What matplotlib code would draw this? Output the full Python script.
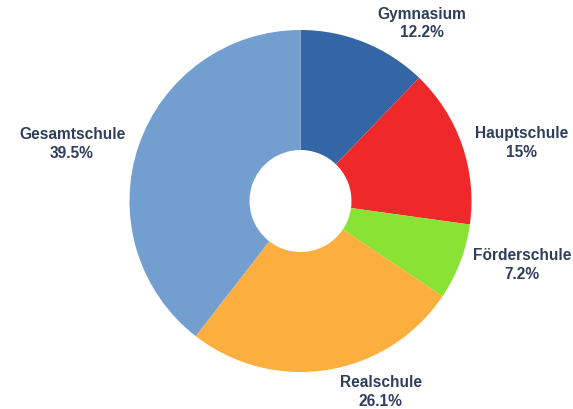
import matplotlib
matplotlib.use("Agg")
import matplotlib.pyplot as plt

categories = ["Gymnasium", "Hauptschule", "Förderschule", "Realschule", "Gesamtschule"]
shares = [12.2, 15, 7.2, 26.1, 39.5]
share_labels = ["12.2%", "15%", "7.2%", "26.1%", "39.5%"]
colors = ["#3465a4", "#ef2929", "#8ae234", "#fcaf3e", "#729fcf"]

# label anchor positions (layout, in units of the pie radius)
label_pos = [(0.711, 1.038), (1.295, 0.339), (1.295, -0.374), (0.468, -1.117), (-1.336, 0.333)]

W, H = 573, 409
fig = plt.figure(figsize=(W / 100, H / 100), dpi=100)
cx, cy, R = 300.5, 201, 171
ax = fig.add_axes([(cx - R) / W, (H - cy - R) / H, 2 * R / W, 2 * R / H])
ax.pie(shares, colors=colors, startangle=90, counterclock=False,
       radius=1, wedgeprops=dict(width=1 - 51 / 171, linewidth=0))
ax.set_xlim(-1, 1)
ax.set_ylim(-1, 1)
ax.set_aspect("equal")
ax.axis("off")

for name, lab, (x, y) in zip(categories, share_labels, label_pos):
    ax.text(x, y, f"{name}\n{lab}", ha="center", va="center",
            fontsize=11.2, fontweight="bold", color="#2e3e5c",
            family=["Liberation Sans", "DejaVu Sans"], linespacing=1.28,
            clip_on=False)

fig.savefig("out.png", dpi=100)
